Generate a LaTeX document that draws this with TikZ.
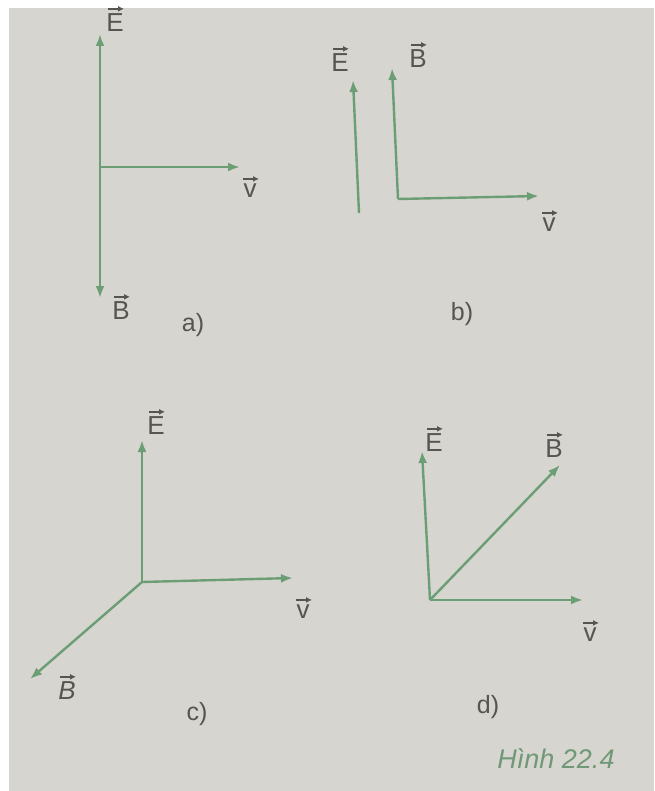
\documentclass[tikz,border=0pt]{standalone}
\usepackage{fontspec}
\setmainfont{Liberation Sans}
\usetikzlibrary{arrows.meta}
\definecolor{paper}{RGB}{214,213,207}
\definecolor{vecgreen}{RGB}{108,158,118}
\definecolor{labgray}{RGB}{85,85,82}
\definecolor{capgreen}{RGB}{112,152,118}
\tikzset{
  vecline/.style={draw=vecgreen, line width=2.4pt, -{Latex[length=12pt,width=9pt]}},
  lab/.style={text=labgray, font=\fontsize{26}{28}\selectfont, inner sep=0pt},
  sublab/.style={text=labgray, font=\fontsize{25}{28}\selectfont, inner sep=0pt},
  caption/.style={text=capgreen, font=\itshape\fontsize{27}{30}\selectfont, inner sep=0pt},
  overarrow/.style={draw=labgray, line width=1.8pt, -{Latex[length=6pt,width=6pt]}}
}
% small arrow over a label node
\newcommand{\overarr}[1]{\draw[overarrow] ([xshift=-7pt,yshift=5pt]#1.north) -- ([xshift=9pt,yshift=5pt]#1.north);}
\begin{document}
\begin{tikzpicture}[x=1pt,y=-1pt]
\useasboundingbox (0,0) rectangle (654,791);
\fill[white] (0,0) rectangle (654,791);
\fill[paper] (9,8) rectangle (654,791);

% ---- a)
\coordinate (aEt) at (100,34);
\coordinate (aBt) at (100,298);
\coordinate (aO) at (100,167);
\coordinate (aVt) at (240,167);
\draw[vecline] (aO) -- (aEt);
\draw[vecline] (aO) -- (aBt);
\draw[vecline] (aO) -- (aVt);
\node[lab] (aE) at (115,23) {E}; \overarr{aE}
\node[lab] (aV) at (250,191) {v}; \overarr{aV}
\node[lab] (aB) at (121,311) {B}; \overarr{aB}
\node[sublab] (la) at (193,325) {a)};

% ---- b)
\coordinate (bEs) at (359,213);
\coordinate (bEt) at (353,80);
\coordinate (bO) at (398,199);
\coordinate (bBt) at (392,68);
\coordinate (bVt) at (539,196);
\draw[vecline] (bEs) -- (bEt);
\draw[vecline] (bO) -- (bBt);
\draw[vecline] (bO) -- (bVt);
\node[lab] (bE) at (340,63) {E}; \overarr{bE}
\node[lab] (bB) at (418,59) {B}; \overarr{bB}
\node[lab] (bV) at (549,225) {v}; \overarr{bV}
\node[sublab] (lb) at (462,314) {b)};

% ---- c)
\coordinate (cO) at (142,582);
\coordinate (cEt) at (142,440);
\coordinate (cVt) at (293,578);
\coordinate (cBt) at (30,679);
\draw[vecline] (cO) -- (cEt);
\draw[vecline] (cO) -- (cVt);
\draw[vecline] (cO) -- (cBt);
\node[lab] (cE) at (156,426) {E}; \overarr{cE}
\node[lab] (cV) at (303,612) {v}; \overarr{cV}
\node[lab] (cB) at (67,691) {\itshape B}; \overarr{cB}
\node[sublab] (lc) at (197,714) {c)};

% ---- d)
\coordinate (dO) at (430,600);
\coordinate (dEt) at (422,451);
\coordinate (dBt) at (560,465);
\coordinate (dVt) at (583,600);
\draw[vecline] (dO) -- (dEt);
\draw[vecline] (dO) -- (dBt);
\draw[vecline] (dO) -- (dVt);
\node[lab] (dE) at (434,443) {E}; \overarr{dE}
\node[lab] (dB) at (554,449) {B}; \overarr{dB}
\node[lab] (dV) at (590,635) {v}; \overarr{dV}
\node[sublab] (ld) at (488,707) {d)};

\node[caption] (cap) at (556,759) {Hình 22.4};
\end{tikzpicture}
\end{document}
